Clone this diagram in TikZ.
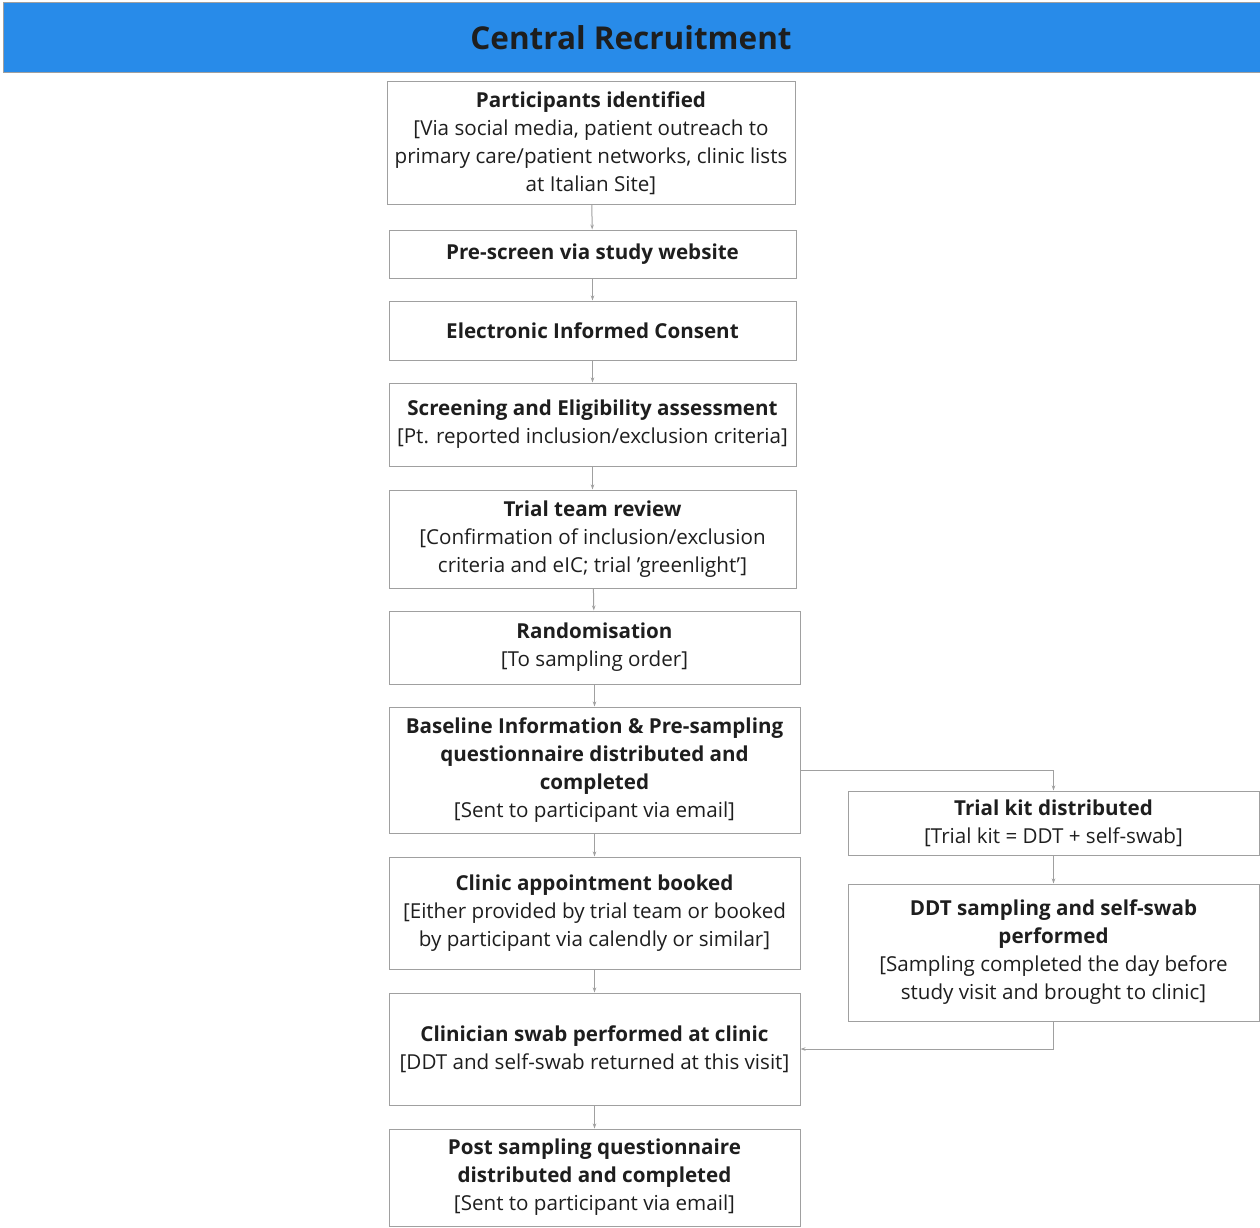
\documentclass[tikz,border=0pt]{standalone}
\usepackage{fontspec}
\setmainfont{Open Sans}
\usepackage{tikz}
\usetikzlibrary{arrows.meta, calc}
\definecolor{headblue}{RGB}{40,139,233}
\definecolor{boxline}{RGB}{160,160,160}
\definecolor{inktext}{RGB}{30,30,30}

\tikzset{
  stepbox/.style={draw=boxline, line width=1pt, align=center, inner sep=0pt,
    text=inktext, font=\fontsize{20.6}{28}\selectfont},
  link/.style={draw=boxline, line width=1pt, -{Stealth[length=5pt,width=3.5pt]}}
}

\begin{document}
\begin{tikzpicture}[x=1pt,y=-1pt]
                    \useasboundingbox (0,0) rectangle (1260,1227);
                    \fill[headblue] (3,2) rectangle (1260,72);
                    \draw[boxline, line width=0.8pt] (3,2) rectangle (1260,72);
                    \node[text=inktext, font=\fontsize{31.5}{36}\selectfont\bfseries] (title) at (631,38) {Central Recruitment};

                    \node[stepbox, minimum width=408, minimum height=123] (ident) at (591,143) {\textbf{Participants identified}\\{[Via social media, patient outreach to}\\primary care/patient networks, clinic lists\\at Italian Site]};
                    \node[stepbox, minimum width=407, minimum height=48] (prescreen) at (592.5,254) {\textbf{Pre-screen via study website}};
                    \node[stepbox, minimum width=407, minimum height=59] (consent) at (592.5,330.5) {\textbf{Electronic Informed Consent}};
                    \node[stepbox, minimum width=407, minimum height=83] (screen) at (592.5,424.5) {\textbf{Screening and Eligibility assessment}\\{[Pt. reported inclusion/exclusion criteria]}};
                    \node[stepbox, minimum width=407, minimum height=98] (review) at (592.5,539) {\textbf{Trial team review}\\{[Confirmation of inclusion/exclusion}\\criteria and eIC; trial 'greenlight']};
                    \node[stepbox, minimum width=411, minimum height=73] (random) at (594.5,647.5) {\textbf{Randomisation}\\{[To sampling order]}};
                    \node[stepbox, minimum width=411, minimum height=126] (baseline) at (594.5,770) {\textbf{Baseline Information \& Pre-sampling}\\\textbf{questionnaire distributed and}\\\textbf{completed}\\{[Sent to participant via email]}};
                    \node[stepbox, minimum width=411, minimum height=112] (booked) at (594.5,913) {\textbf{Clinic appointment booked}\\{[Either provided by trial team or booked}\\by participant via calendly or similar]};
                    \node[stepbox, minimum width=411, minimum height=112] (swab) at (594.5,1049) {\textbf{Clinician swab performed at clinic}\\{[DDT and self-swab returned at this visit]}};
                    \node[stepbox, minimum width=411, minimum height=97] (post) at (594.5,1177.5) {\textbf{Post sampling questionnaire}\\\textbf{distributed and completed}\\{[Sent to participant via email]}};
                    \node[stepbox, minimum width=411, minimum height=64] (kit) at (1053.5,823) {\textbf{Trial kit distributed}\\{[Trial kit = DDT + self-swab]}};
                    \node[stepbox, minimum width=411, minimum height=137] (ddt) at (1053.5,952.5) {\textbf{DDT sampling and self-swab}\\\textbf{performed}\\{[Sampling completed the day before}\\study visit and brought to clinic]};

                    \draw[link] (ident) -- (prescreen);
                    \draw[link] (prescreen) -- (consent);
                    \draw[link] (consent) -- (screen);
                    \draw[link] (screen) -- (review);
                    \draw[link] (review) -- (random);
                    \draw[link] (random) -- (baseline);
                    \draw[link] (baseline) -- (booked);
                    \draw[link] (booked) -- (swab);
                    \draw[link] (swab) -- (post);
                    \draw[link] (baseline.east) -| (kit.north);
                    \draw[link] (kit) -- (ddt);
                    \draw[link] (ddt.south) |- (swab.east);
                \end{tikzpicture}
\end{document}
